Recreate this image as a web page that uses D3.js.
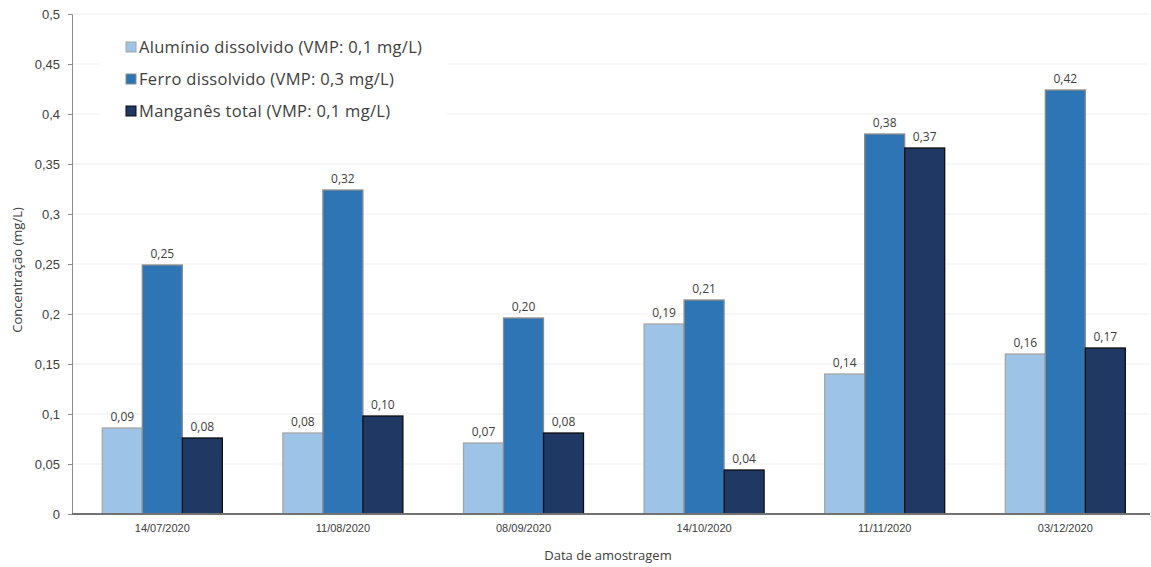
<!DOCTYPE html>
<html>
<head>
<meta charset="utf-8">
<script src="https://cdn.jsdelivr.net/npm/d3@7"></script>
<style>
  body { margin: 0; background: #fff; }
  svg { display: block; font-family: "Open Sans", "DejaVu Sans", sans-serif; }
</style>
</head>
<body>
<svg id="chart" width="1151" height="567"></svg>
<script>
// Sampling dates and measured concentrations (mg/L)
const dates = ["14/07/2020", "11/08/2020", "08/09/2020", "14/10/2020", "11/11/2020", "03/12/2020"];
const aluminio = [0.086, 0.081, 0.071, 0.190, 0.140, 0.160];
const ferro    = [0.249, 0.324, 0.196, 0.214, 0.380, 0.424];
const manganes = [0.076, 0.098, 0.081, 0.044, 0.366, 0.166];
const seriesNames = [
  "Alumínio dissolvido (VMP: 0,1 mg/L)",
  "Ferro dissolvido (VMP: 0,3 mg/L)",
  "Manganês total (VMP: 0,1 mg/L)"
];
const yTicks = [0, 0.05, 0.1, 0.15, 0.2, 0.25, 0.3, 0.35, 0.4, 0.45, 0.5];

const fills   = ["#9dc3e6", "#2e75b6", "#1f3864"];
const strokes = ["#a6a6a6", "#8c8c8c", "#0d0d0d"];

const series = [aluminio, ferro, manganes];
const rows = dates.map((d, i) => ({ date: d, values: series.map(s => s[i]) }));

const svg = d3.select("#chart");
const plotLeft = 72, plotRight = 1155.6, plotTop = 14, plotBottom = 514;

const x = d3.scaleBand().domain(dates).range([plotLeft, plotRight]).paddingInner(0).paddingOuter(0);
const x1 = d3.scaleBand().domain([0, 1, 2]).range([0, 120]);
const y = d3.scaleLinear().domain([0, 0.5]).range([plotBottom, plotTop]);

const fmtTick = v => String(+v.toFixed(2)).replace(".", ",");
const fmtVal = v => v.toFixed(2).replace(".", ",");

// Horizontal gridlines
svg.append("g")
  .selectAll("line")
  .data(yTicks.filter(t => t > 0))
  .join("line")
  .attr("x1", plotLeft).attr("x2", 1150)
  .attr("y1", d => y(d)).attr("y2", d => y(d))
  .attr("stroke", "#efefef").attr("stroke-width", 1);

// Y axis
const yAxis = svg.append("g")
  .attr("transform", `translate(${plotLeft},0)`)
  .call(d3.axisLeft(y).tickValues(yTicks).tickFormat(fmtTick).tickSize(4).tickPadding(8));
yAxis.select(".domain").attr("stroke", "#8c8c8c");
yAxis.selectAll(".tick line").attr("stroke", "#8c8c8c");
yAxis.selectAll("text").attr("font-size", 13).attr("fill", "#404040");

// Bars
const groups = svg.append("g")
  .selectAll("g")
  .data(rows)
  .join("g")
  .attr("transform", d => `translate(${x(d.date) + (x.bandwidth() - 120) / 2},0)`);

groups.selectAll("rect")
  .data(d => d.values.map((v, k) => ({ v, k })))
  .join("rect")
  .attr("x", d => x1(d.k))
  .attr("width", x1.bandwidth())
  .attr("y", d => y(d.v))
  .attr("height", d => y(0) - y(d.v))
  .attr("fill", d => fills[d.k])
  .attr("stroke", d => strokes[d.k])
  .attr("stroke-width", 1.3);

groups.selectAll("text")
  .data(d => d.values.map((v, k) => ({ v, k })))
  .join("text")
  .attr("x", d => x1(d.k) + x1.bandwidth() / 2)
  .attr("y", d => y(d.v) - 7)
  .attr("text-anchor", "middle")
  .attr("font-size", 12)
  .attr("fill", "#404040")
  .text(d => fmtVal(d.v));

// X axis
const xAxis = svg.append("g")
  .attr("transform", `translate(0,${plotBottom})`)
  .call(d3.axisBottom(x).tickSize(0).tickPadding(10));
xAxis.select(".domain").attr("stroke", "#737373").attr("stroke-width", 2)
  .attr("d", `M${plotLeft},0H1150`);
xAxis.selectAll("text").attr("font-size", 11).attr("fill", "#404040");

// Axis titles
svg.append("text")
  .attr("x", 608).attr("y", 560)
  .attr("text-anchor", "middle")
  .attr("font-size", 13).attr("fill", "#404040")
  .text("Data de amostragem");

svg.append("text")
  .attr("transform", "translate(22,270) rotate(-90)")
  .attr("text-anchor", "middle")
  .attr("font-size", 13).attr("fill", "#404040")
  .text("Concentração (mg/L)");

// Legend
const legend = svg.append("g");
legend.append("rect")
  .attr("x", 100).attr("y", 24).attr("width", 347).attr("height", 108)
  .attr("fill", "#fff");
const items = legend.selectAll("g")
  .data(seriesNames)
  .join("g")
  .attr("transform", (d, i) => `translate(126,${47 + i * 32})`);
items.append("rect")
  .attr("x", 0).attr("y", -5).attr("width", 10).attr("height", 10)
  .attr("fill", (d, i) => fills[i])
  .attr("stroke", (d, i) => strokes[i]).attr("stroke-width", 1);
items.append("text")
  .attr("x", 13).attr("y", 0).attr("dy", "0.35em")
  .attr("font-size", 16.5).attr("letter-spacing", 0.3).attr("fill", "#404040")
  .text(d => d);
</script>
</body>
</html>
